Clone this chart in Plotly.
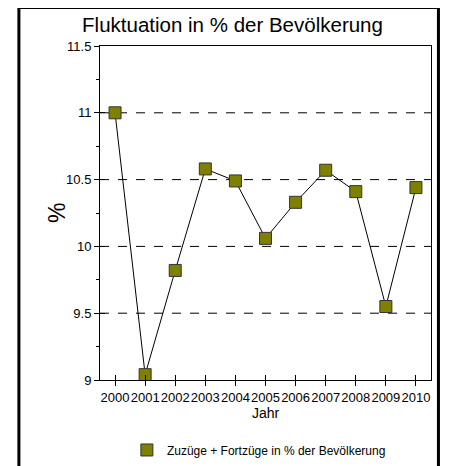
import plotly.graph_objects as go

# Fluktuation (Zuzüge + Fortzüge) in % der Bevölkerung
jahre = [2000, 2001, 2002, 2003, 2004, 2005, 2006, 2007, 2008, 2009, 2010]
fluktuation = [11.0, 9.04, 9.82, 10.58, 10.49, 10.06, 10.33, 10.57, 10.41, 9.55, 10.44]
serie_name = "Zuzüge + Fortzüge in % der Bevölkerung"
y_ticks = [9, 9.5, 10, 10.5, 11, 11.5]
y_tick_text = ["9", "9.5", "10", "10.5", "11", "11.5"]

olive = "#808000"
font_main = "Liberation Sans, Arial, sans-serif"

fig = go.Figure()

# line only (no legend entry)
fig.add_trace(go.Scatter(
    x=jahre, y=fluktuation, mode="lines",
    line=dict(color="black", width=1),
    showlegend=False, hoverinfo="skip",
))
# markers (shown in legend as a square)
fig.add_trace(go.Scatter(
    x=jahre, y=fluktuation, mode="markers", name=serie_name,
    marker=dict(symbol="square", size=12, color=olive,
                line=dict(color="#333333", width=1)),
))
# invisible copy on the overlay axes so their inner ticks get drawn
fig.add_trace(go.Scatter(
    x=jahre, y=fluktuation, mode="markers", xaxis="x2", yaxis="y2",
    marker=dict(opacity=0), showlegend=False, hoverinfo="skip",
))

# dashed gridlines at the labelled levels between the ends
for v in y_ticks[1:-1]:
    fig.add_shape(type="line", xref="paper", yref="y", x0=0, x1=1, y0=v, y1=v,
                  line=dict(color="black", width=1, dash="dash"), layer="below")

# outer black frame
fig.add_shape(type="rect", xref="paper", yref="paper",
              x0=-0.245, x1=1.0225, y0=-0.32, y1=1.115,
              line=dict(color="black", width=3))

# y axis title, placed by hand (sits closer to the plot than standoff allows)
fig.add_annotation(text="%", xref="paper", yref="paper", x=-0.13, y=0.5,
                   xanchor="center", yanchor="middle",
                   textangle=-90, showarrow=False,
                   font=dict(family=font_main, size=23, color="black"))

# page body has an 8px margin, so the figure is made 8px smaller
fig.update_layout(
    width=449, height=458,
    margin=dict(l=92, r=26, t=38, b=86),
    paper_bgcolor="white", plot_bgcolor="white",
    title=dict(text="Fluktuation in % der Bevölkerung", x=0.5, xref="container",
               xanchor="center", y=0.963, yanchor="middle",
               font=dict(family=font_main, size=20.5, color="black")),
    xaxis=dict(
        range=[1999.5, 2010.5], tickmode="array", tickvals=jahre,
        ticktext=[str(j) for j in jahre], tickangle=0, automargin=False,
        showgrid=False, zeroline=False,
        showline=True, linecolor="black", linewidth=1, mirror=True,
        ticks="outside", ticklen=5, tickcolor="black",
        tickfont=dict(family=font_main, size=13, color="black"),
        title=dict(text="Jahr", standoff=2,
                   font=dict(family=font_main, size=14, color="black")),
    ),
    yaxis=dict(
        range=[9, 11.5], tickmode="array", tickvals=y_ticks, ticktext=y_tick_text,
        showgrid=False, zeroline=False, automargin=False,
        showline=True, linecolor="black", linewidth=1, mirror=True,
        ticks="outside", ticklen=5, tickcolor="black",
        minor=dict(dtick=0.25, tick0=9, ticklen=3, ticks="outside", tickcolor="black"),
        tickfont=dict(family=font_main, size=13, color="black"),
    ),
    xaxis2=dict(overlaying="x", anchor="y", side="bottom", range=[1999.5, 2010.5],
                tickmode="array", tickvals=jahre, showticklabels=False,
                ticks="inside", ticklen=5, tickcolor="black", automargin=False,
                showgrid=False, zeroline=False, showline=False),
    yaxis2=dict(overlaying="y", anchor="x", side="left", range=[9, 11.5],
                tickmode="array", tickvals=y_ticks, showticklabels=False,
                ticks="inside", ticklen=5, tickcolor="black", automargin=False,
                showgrid=False, zeroline=False, showline=False),
    legend=dict(orientation="h", x=0.48, xanchor="center",
                yref="container", y=0.035, yanchor="middle",
                font=dict(family=font_main, size=12, color="black"),
                bgcolor="rgba(0,0,0,0)"),
)

fig.write_html("out.html")
